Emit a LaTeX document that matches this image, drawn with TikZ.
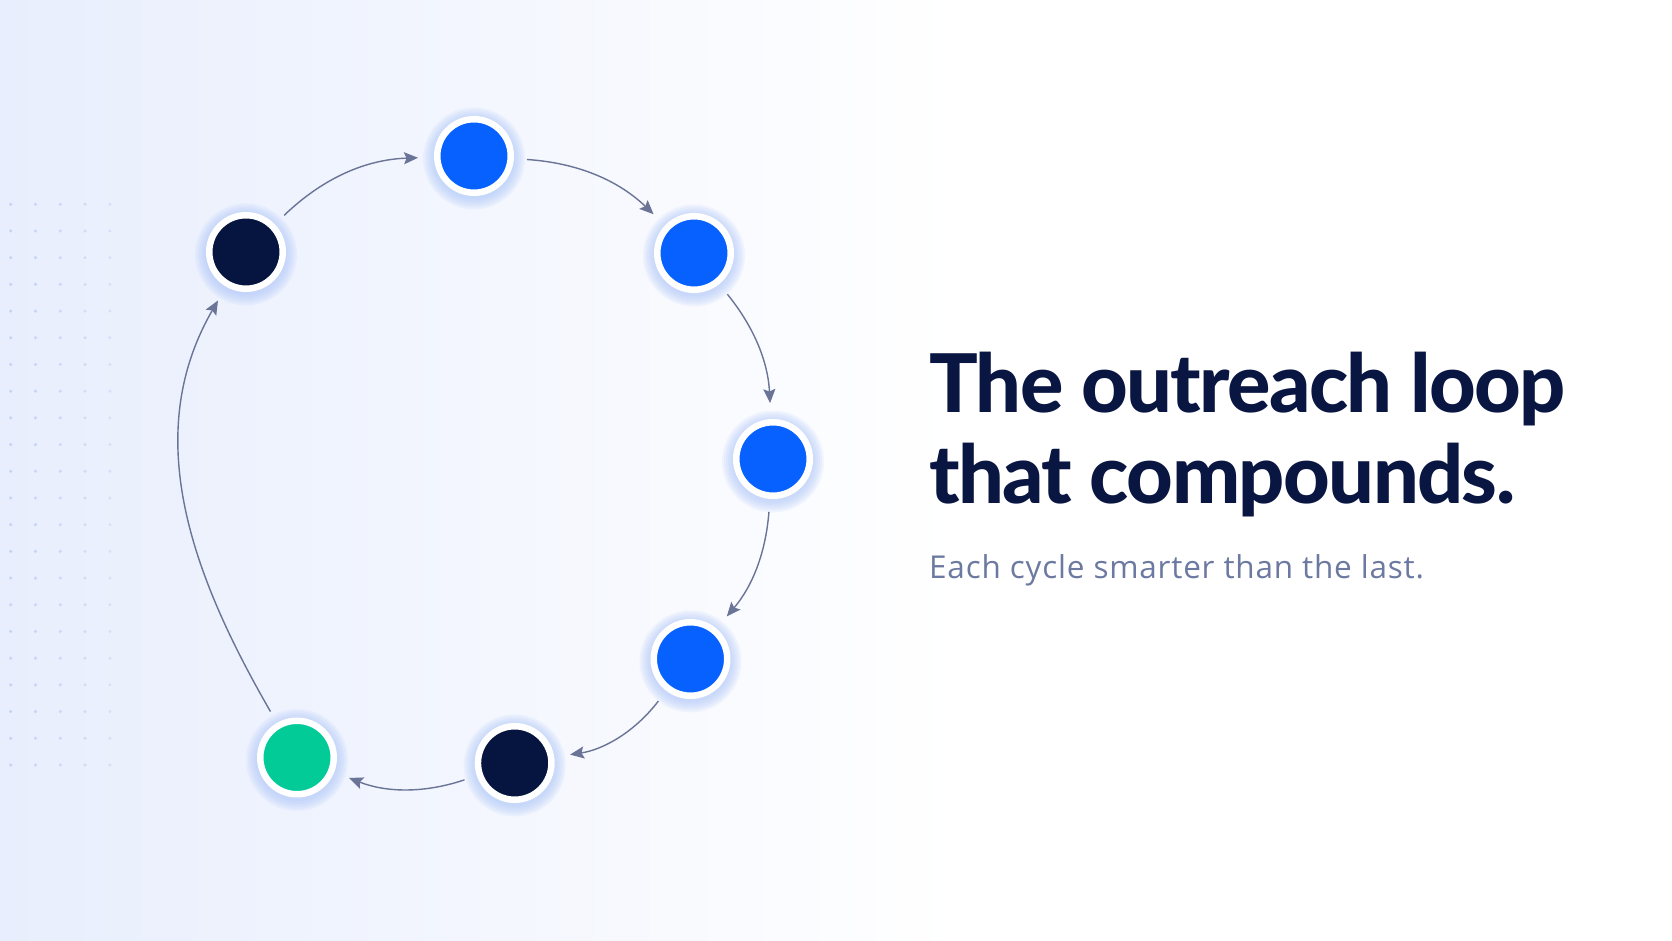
\documentclass[tikz,border=0pt]{standalone}
\usepackage{fontspec}
\setmainfont{Lato}
\newfontfamily\headfont{Lato Heavy}[LetterSpace=-2]
\newfontfamily\subfont{Open Sans}[LetterSpace=2.5]
\usetikzlibrary{positioning,arrows.meta,backgrounds}

\definecolor{loopblue}{HTML}{0661FE}
\definecolor{loopnavy}{HTML}{06153F}
\definecolor{loopgreen}{HTML}{03CB98}
\definecolor{looparrow}{HTML}{6A7497}
\definecolor{headcolor}{HTML}{0A1642}
\definecolor{subcolor}{HTML}{6C7AA1}
\definecolor{glowblue}{HTML}{ADC6FA}
\definecolor{bgblue}{HTML}{E8EEFD}
\definecolor{dotblue}{HTML}{C2D3F5}

\def\ringsize{73.5pt}
\def\ringwidth{6.5pt}
\def\headgap{90.6pt}
\def\subgap{75.7pt}

\begin{document}
\begin{tikzpicture}[x=1pt, y=1pt,
            loopnode/.style={%
                circle, draw=white, line width=\ringwidth,%
                minimum size=\ringsize, inner sep=0pt%
            },
            bluenode/.style={loopnode, fill=loopblue},
            navynode/.style={loopnode, fill=loopnavy},
            greennode/.style={loopnode, fill=loopgreen},
            arrow/.style={%
                draw=looparrow, line width=1.4pt,%
                -{Stealth[length=14pt, width=12pt, inset=2.5pt]},%
                shorten <=13pt, shorten >=16pt%
            },
            headline/.style={%
                inner sep=0pt, anchor=base west, text=headcolor,%
                font=\fontsize{81}{90}\headfont%
            },
            subline/.style={%
                inner sep=0pt, anchor=base west, text=subcolor,%
                font=\fontsize{31.5}{34}\subfont%
            }
        ]
        \useasboundingbox (0,0) rectangle (1672,941);

        % Background and dot grid
        \begin{scope}[on background layer]
            \fill[white] (0,0) rectangle (1672,941);
            \shade[left color=bgblue, right color=white] (0,0) rectangle (960,941);
            \foreach \col/\op in {0/1, 1/.9, 2/.8, 3/.65, 4/.5} {
                \foreach \row in {0,...,21} {
                    \fill[dotblue, opacity=\op] 
                        (10.7+24.8*\col, 736.7-26.7*\row) circle (1.7pt);
                }
            }
        \end{scope}

        % Define nodes
        \node (dark_1)  [navynode]  at (246,689)   {};
        \node (blue_1)  [bluenode]  at (474,785)   {};
        \node (blue_2)  [bluenode]  at (694,688)   {};
        \node (blue_3)  [bluenode]  at (773,482)   {};
        \node (blue_4)  [bluenode]  at (690.5,282) {};
        \node (dark_2)  [navynode]  at (514.7,178) {};
        \node (green_1) [greennode] at (297,183.5) {};

        % Glow behind the nodes
        \begin{scope}[on background layer]
            \foreach \n in {dark_1, blue_1, blue_2, blue_3, blue_4, dark_2, green_1} {
                \foreach \r in {41,43,...,51} {
                    \fill[glowblue, opacity=.14] 
                        ([yshift=-2.5pt]\n.center) circle (\r pt);
                }
            }
        \end{scope}

        \draw [arrow] (dark_1) to[bend left=21] (blue_1);
        \draw [arrow] (blue_1) to[bend left=20] (blue_2);
        \draw [arrow] (blue_2) to[bend left=18] (blue_3);
        \draw [arrow] (blue_3) to[bend left=18] (blue_4);
        \draw [arrow] (blue_4) to[bend left=22] (dark_2);
        \draw [arrow] (dark_2) to[bend left=20] (green_1);
        \draw [arrow] 
            (green_1) to[out=120, in=240, looseness=1.0] (dark_1);

        % Text
        \node (title_1) [headline] at (929,528.3) {The outreach loop};
        \node (title_2) [headline, below=\headgap of title_1.base west, 
            anchor=base west] {that compounds.};
        \node (subtitle) [subline, below=\subgap of title_2.base west, 
            anchor=base west] {Each cycle smarter than the last.};

\end{tikzpicture}
\end{document}
